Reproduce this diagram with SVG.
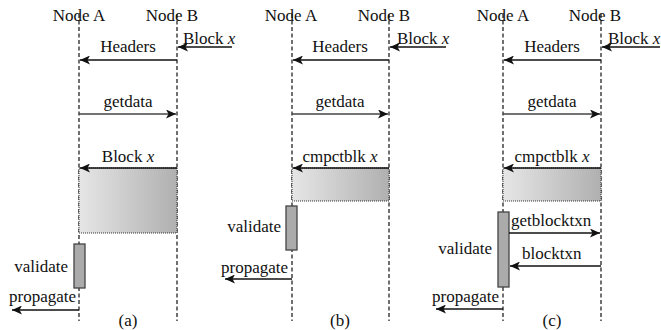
<svg xmlns="http://www.w3.org/2000/svg" width="661" height="330" viewBox="0 0 661 330" font-family="'Liberation Serif', serif">
<style>
text{font-family:'Liberation Serif',serif;font-size:17px;fill:#111}
.m{text-anchor:middle}.e{text-anchor:end}
.life{stroke:#111;stroke-width:1.2;stroke-dasharray:4 2.5;fill:none}
.msg{stroke:#111;stroke-width:1.4;fill:none;marker-end:url(#ah)}
.msg2{stroke:#444;stroke-width:1.6;fill:none;marker-end:url(#ah)}
.blk{fill:url(#g);stroke:#333;stroke-width:1;stroke-dasharray:1 1}
.act{fill:#ababab;stroke:#444;stroke-width:1.3}
</style>
<defs>
<linearGradient id="g" x1="0" y1="0" x2="1" y2="0">
<stop offset="0" stop-color="#e6e6e6"/><stop offset="1" stop-color="#b0b0b0"/>
</linearGradient>
<marker id="ah" markerUnits="userSpaceOnUse" markerWidth="11" markerHeight="9" refX="10" refY="4.5" orient="auto">
<path d="M0,0 L10,4.5 L0,9 L2.5,4.5 z" fill="#111"/>
</marker>
</defs>
<rect width="661" height="330" fill="#fff"/>
<g id="panel-a-nodes">
<g id="a-nodeA"><line class="life" x1="79" y1="14" x2="79" y2="321"/><text class="m" x="79" y="21">Node A</text></g>
<g id="a-nodeB"><line class="life" x1="177" y1="14" x2="177" y2="321"/><text class="m" x="172" y="21">Node B</text></g>
<g id="a-block"><rect class="blk" x="79" y="168" width="98" height="65"/></g>
<g id="a-validate"><rect class="act" x="74" y="244" width="11" height="44"/><text class="e" x="68" y="272">validate</text></g>
<text class="m" x="128" y="326">(a)</text>
</g>

<g id="panel-b-nodes">
<g id="b-nodeA"><line class="life" x1="292" y1="14" x2="292" y2="321"/><text class="m" x="291" y="21">Node A</text></g>
<g id="b-nodeB"><line class="life" x1="389" y1="14" x2="389" y2="321"/><text class="m" x="384" y="21">Node B</text></g>
<g id="b-block"><rect class="blk" x="292" y="168" width="97" height="33"/></g>
<g id="b-validate"><rect class="act" x="286" y="206" width="11" height="44"/><text class="e" x="281" y="232">validate</text></g>
<text class="m" x="340" y="326">(b)</text>
</g>

<g id="panel-c-nodes">
<g id="c-nodeA"><line class="life" x1="503" y1="14" x2="503" y2="321"/><text class="m" x="503" y="21">Node A</text></g>
<g id="c-nodeB"><line class="life" x1="601" y1="14" x2="601" y2="321"/><text class="m" x="595" y="21">Node B</text></g>
<g id="c-block"><rect class="blk" x="503" y="168" width="98" height="33"/></g>
<g id="c-validate"><rect class="act" x="498" y="212" width="11" height="75"/><text class="e" x="492" y="254">validate</text></g>
<text class="m" x="552" y="326">(c)</text>
</g>

<g id="connectors">
<line class="msg" x1="232" y1="47" x2="178" y2="47"/>
<line class="msg" x1="177" y1="60" x2="80" y2="60"/>
<line class="msg2" x1="79" y1="114" x2="176" y2="114"/>
<line class="msg" x1="177" y1="168" x2="80" y2="168"/>
<line class="msg" x1="79" y1="310" x2="12" y2="310"/>

<line class="msg" x1="446" y1="47" x2="390" y2="47"/>
<line class="msg" x1="389" y1="60" x2="293" y2="60"/>
<line class="msg2" x1="292" y1="114" x2="388" y2="114"/>
<line class="msg" x1="389" y1="168" x2="293" y2="168"/>
<line class="msg" x1="292" y1="279" x2="225" y2="279"/>

<line class="msg" x1="660" y1="47" x2="602" y2="47"/>
<line class="msg" x1="601" y1="60" x2="504" y2="60"/>
<line class="msg2" x1="503" y1="114" x2="600" y2="114"/>
<line class="msg" x1="601" y1="168" x2="504" y2="168"/>
<line class="msg" x1="509" y1="233" x2="600" y2="233"/>
<line class="msg" x1="601" y1="266" x2="510" y2="266"/>
<line class="msg" x1="503" y1="309" x2="436" y2="309"/>
</g>

<g id="labels">
<text x="183" y="44">Block <tspan font-style="italic">x</tspan></text>
<text class="m" x="128" y="52">Headers</text>
<text class="m" x="128" y="107">getdata</text>
<text class="m" x="128" y="162">Block <tspan font-style="italic">x</tspan></text>
<text class="e" x="76" y="302">propagate</text>

<text x="397" y="44">Block <tspan font-style="italic">x</tspan></text>
<text class="m" x="340" y="52">Headers</text>
<text class="m" x="340" y="107">getdata</text>
<text class="m" x="340" y="162">cmpctblk <tspan font-style="italic">x</tspan></text>
<text class="e" x="288" y="273">propagate</text>

<text x="608" y="44">Block <tspan font-style="italic">x</tspan></text>
<text class="m" x="552" y="52">Headers</text>
<text class="m" x="552" y="107">getdata</text>
<text class="m" x="552" y="162">cmpctblk <tspan font-style="italic">x</tspan></text>
<text x="511" y="226">getblocktxn</text>
<text x="522" y="259">blocktxn</text>
<text class="e" x="499" y="302">propagate</text>
</g>
</svg>
